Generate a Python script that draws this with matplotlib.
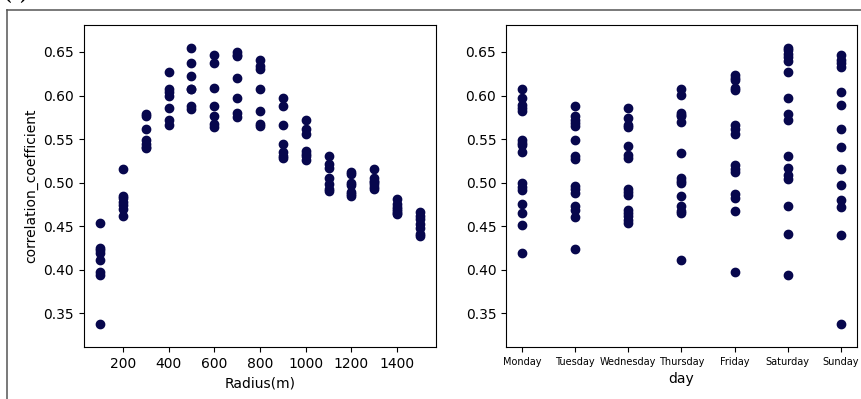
import matplotlib.pyplot as plt
from matplotlib.lines import Line2D

# correlation values, grouped by radius
radius = [100, 200, 300, 400, 500, 600, 700, 800, 900, 1000, 1100, 1200, 1300, 1400, 1500]
r100 = [0.454, 0.425, 0.422, 0.419, 0.411, 0.397, 0.394, 0.337]
r200 = [0.516, 0.485, 0.482, 0.478, 0.474, 0.470, 0.461]
r300 = [0.579, 0.576, 0.562, 0.549, 0.544, 0.541, 0.540]
r400 = [0.627, 0.607, 0.604, 0.600, 0.586, 0.572, 0.566]
r500 = [0.655, 0.637, 0.622, 0.608, 0.607, 0.588, 0.585]
r600 = [0.647, 0.637, 0.609, 0.588, 0.577, 0.567, 0.564]
r700 = [0.650, 0.647, 0.645, 0.620, 0.597, 0.580, 0.575]
r800 = [0.641, 0.634, 0.631, 0.607, 0.582, 0.567, 0.565]
r900 = [0.597, 0.588, 0.566, 0.544, 0.535, 0.531, 0.528]
r1000 = [0.572, 0.562, 0.556, 0.536, 0.533, 0.530, 0.526]
r1100 = [0.531, 0.521, 0.517, 0.505, 0.498, 0.492, 0.490]
r1200 = [0.512, 0.510, 0.500, 0.497, 0.489, 0.487, 0.485]
r1300 = [0.516, 0.505, 0.502, 0.501, 0.498, 0.495, 0.492]
r1400 = [0.481, 0.475, 0.472, 0.470, 0.467, 0.465, 0.464]
r1500 = [0.466, 0.462, 0.458, 0.452, 0.448, 0.441, 0.439]
by_radius = [r100, r200, r300, r400, r500, r600, r700, r800,
             r900, r1000, r1100, r1200, r1300, r1400, r1500]

# right panel, grouped by day
days = ['Monday', 'Tuesday', 'Wednesday', 'Thursday', 'Friday', 'Saturday', 'Sunday']
monday = [0.608, 0.597, 0.589, 0.586, 0.582, 0.549, 0.546, 0.543, 0.535,
          0.499, 0.495, 0.491, 0.475, 0.465, 0.451, 0.419]
tuesday = [0.588, 0.576, 0.572, 0.568, 0.565, 0.549, 0.530, 0.527,
           0.496, 0.492, 0.488, 0.473, 0.468, 0.460, 0.424]
wednesday = [0.586, 0.574, 0.566, 0.564, 0.542, 0.532, 0.528, 0.493,
             0.489, 0.486, 0.468, 0.465, 0.461, 0.457, 0.453]
thursday = [0.608, 0.601, 0.580, 0.578, 0.576, 0.569, 0.534, 0.505,
            0.502, 0.499, 0.484, 0.473, 0.467, 0.465, 0.411]
friday = [0.623, 0.620, 0.618, 0.609, 0.606, 0.566, 0.562, 0.556,
          0.520, 0.516, 0.512, 0.487, 0.482, 0.467, 0.397]
saturday = [0.655, 0.652, 0.648, 0.644, 0.640, 0.627, 0.597, 0.579,
            0.572, 0.531, 0.517, 0.509, 0.504, 0.473, 0.441, 0.394]
sunday = [0.646, 0.641, 0.637, 0.633, 0.604, 0.589, 0.561, 0.541,
          0.516, 0.497, 0.480, 0.472, 0.440, 0.337]
by_day = [monday, tuesday, wednesday, thursday, friday, saturday, sunday]

dot = '#07074d'

fig = plt.figure(figsize=(8.62, 3.99), dpi=100)

# left: by radius
ax1 = fig.add_axes([0.0974, 0.1303, 0.4084, 0.807])
for r, vals in zip(radius, by_radius):
    ax1.scatter([r] * len(vals), vals, color=dot, s=36)
ax1.set_xlabel('Radius(m)', fontsize=10)
ax1.set_ylabel('correlation_coefficient', fontsize=10)
ax1.set_xticks([200, 400, 600, 800, 1000, 1200, 1400])

# right: by day
ax2 = fig.add_axes([0.587, 0.1303, 0.4072, 0.807])
for d, vals in zip(days, by_day):
    ax2.scatter([d] * len(vals), vals, color=dot, s=36)
ax2.set_xlabel('day', fontsize=10)
ax2.tick_params(axis='x', labelsize=7)

for ax in (ax1, ax2):
    ax.set_ylim(0.311, 0.681)
    ax.set_yticks([0.35, 0.40, 0.45, 0.50, 0.55, 0.60, 0.65])
    ax.tick_params(axis='y', labelsize=10)
ax1.tick_params(axis='x', labelsize=10)

# frame from the notebook cell, only top and left edges are in view
fig.add_artist(Line2D([7.5 / 862, 7.5 / 862], [0, 1 - 10 / 399],
                      transform=fig.transFigure, color='#555555', lw=1.1))
fig.add_artist(Line2D([7.5 / 862, 1], [1 - 10 / 399, 1 - 10 / 399],
                      transform=fig.transFigure, color='#555555', lw=1.1))
fig.text(4 / 862, 1 + 1 / 399, '(a)', fontsize=14, fontweight='bold',
         family='Liberation Serif', va='baseline')

fig.savefig('out.png', dpi=100)
